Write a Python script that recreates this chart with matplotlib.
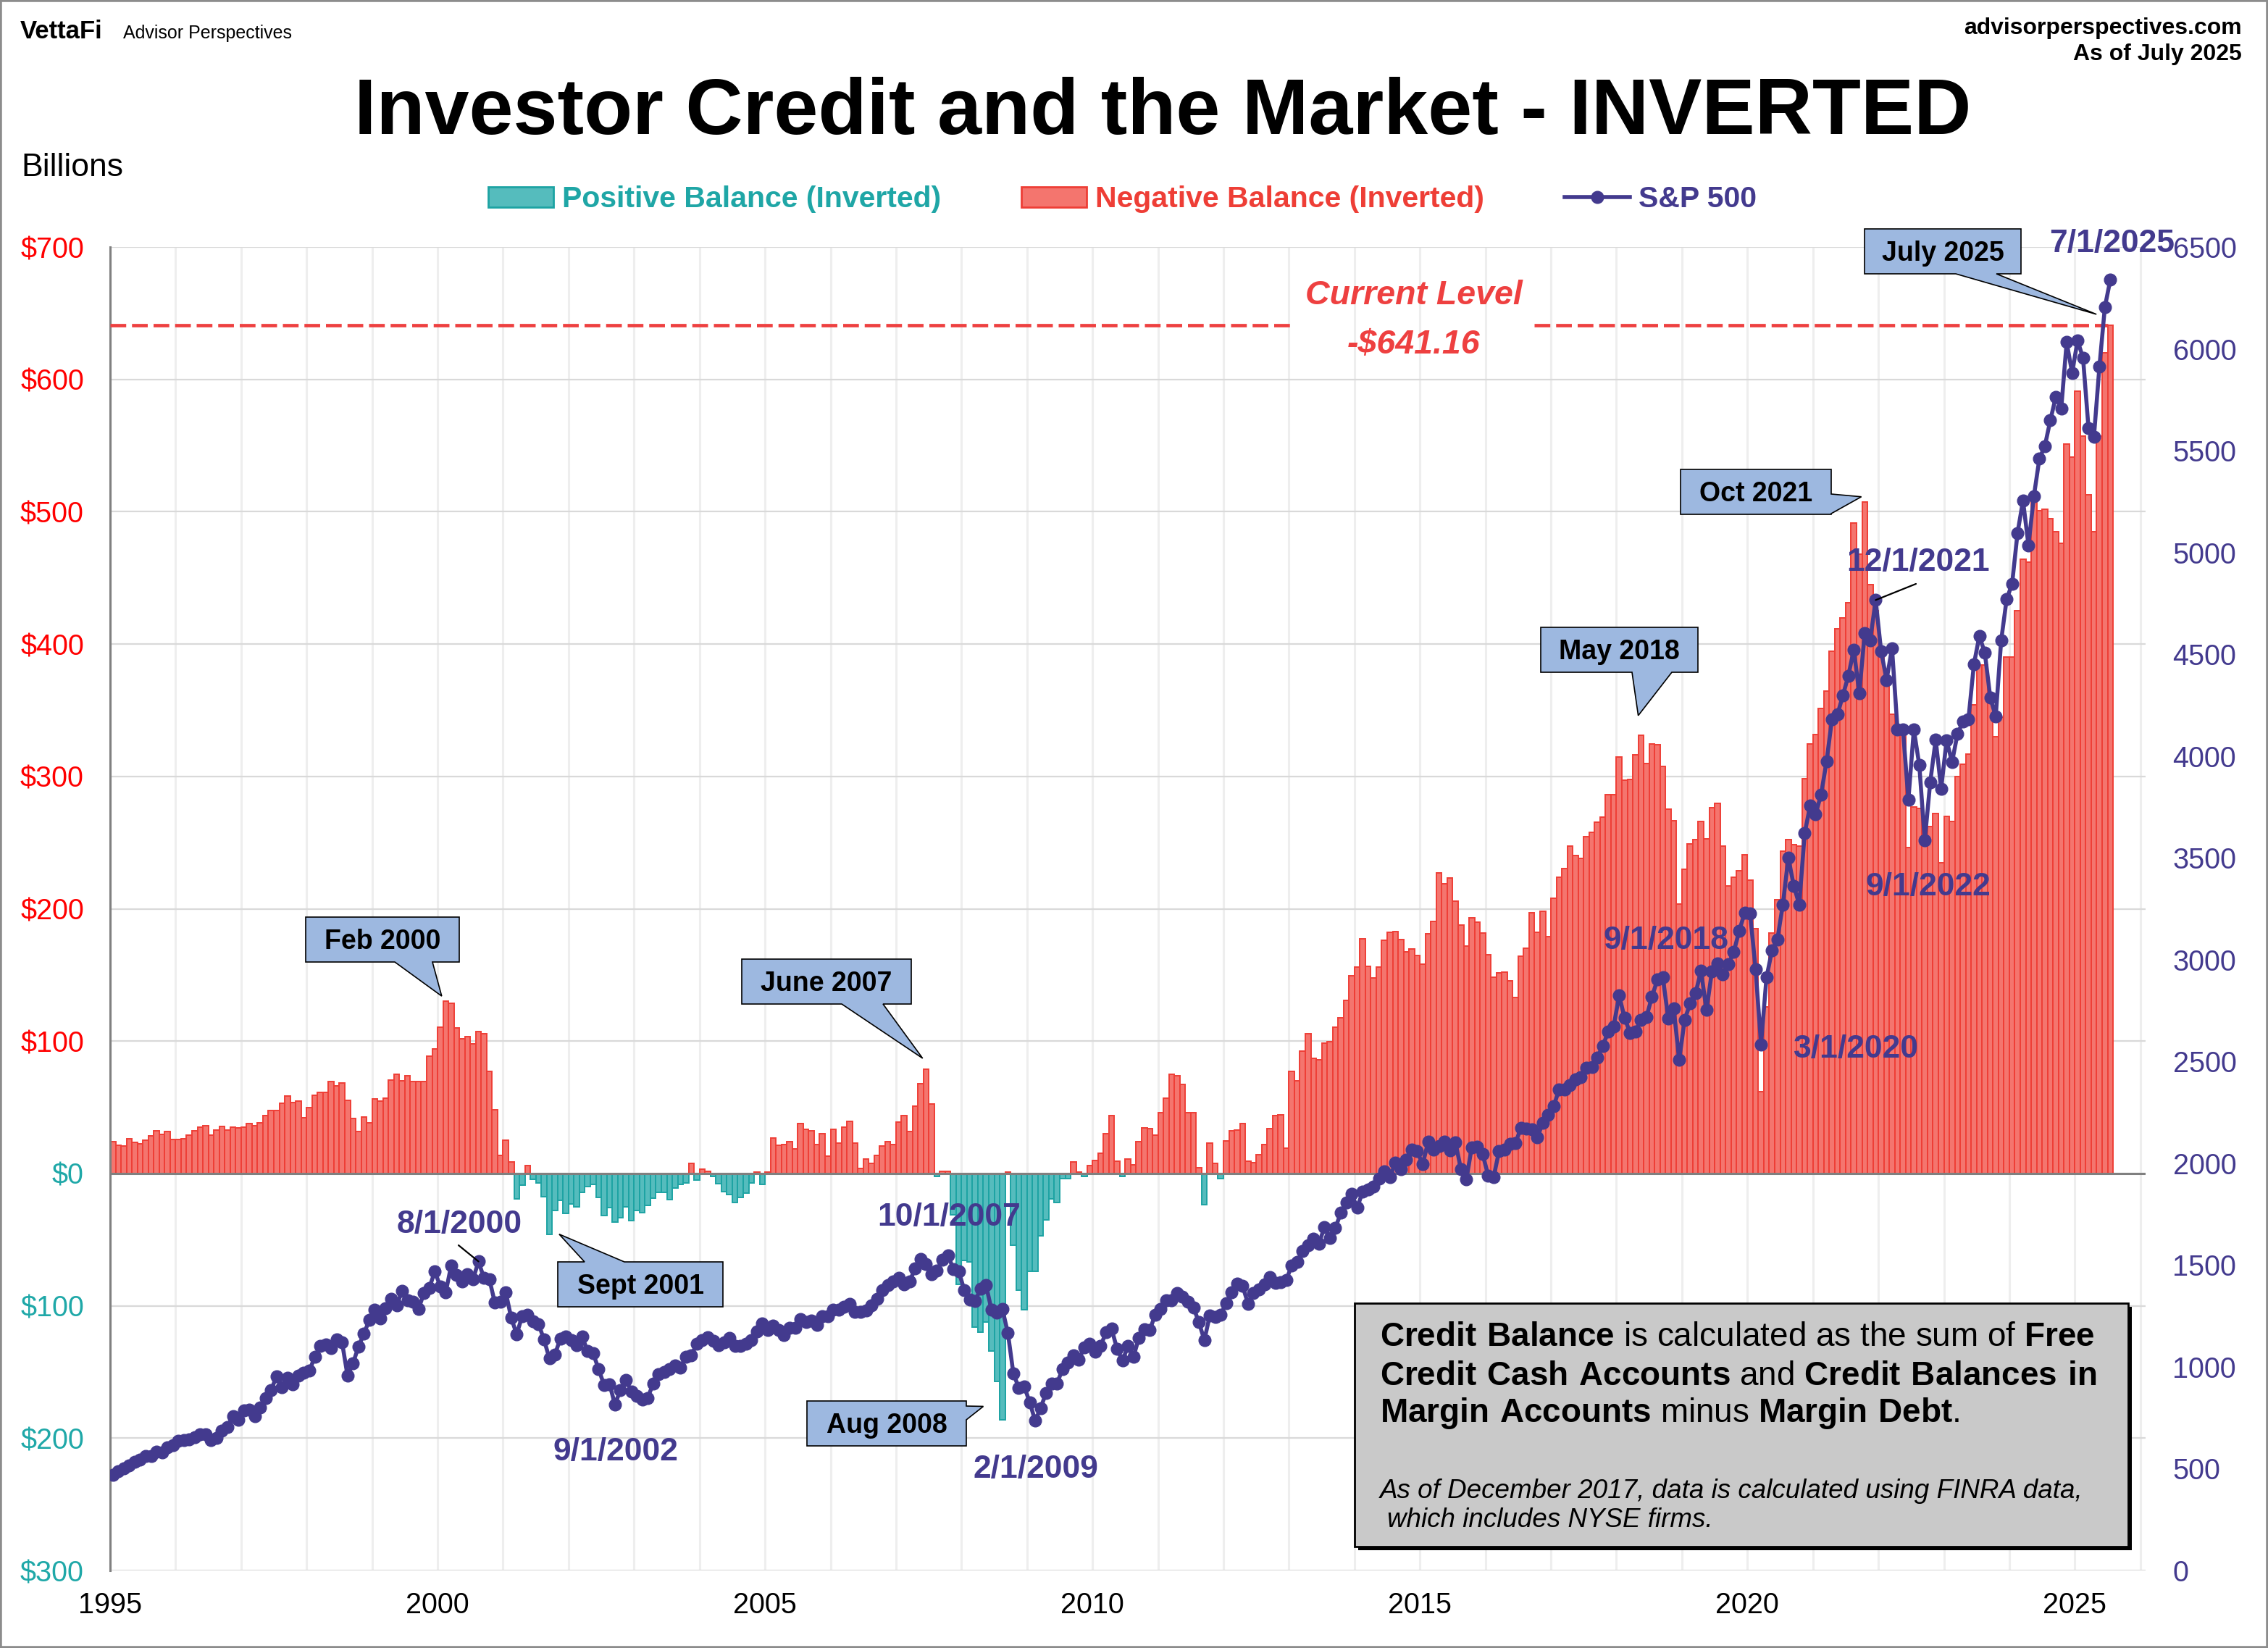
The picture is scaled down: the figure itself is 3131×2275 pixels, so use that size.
import numpy as np
import matplotlib
matplotlib.use("Agg")
import matplotlib.pyplot as plt
from matplotlib.patches import Patch, Rectangle, Polygon
from matplotlib.lines import Line2D
from matplotlib.transforms import IdentityTransform

plt.rcParams['font.family'] = ['Liberation Sans', 'DejaVu Sans']
plt.rcParams['mathtext.fontset'] = 'custom'
plt.rcParams['mathtext.rm'] = 'Liberation Sans'
plt.rcParams['mathtext.bf'] = 'Liberation Sans:bold'

START_YEAR = 1995

# inverted credit balance, $ billions, monthly from Jan 1995
credit_inverted = [
    24, 21.5, 20.7, 26, 23.3, 22.6, 25, 28.4, 32.3, 29.7, 31.6, 25.7,            # 1995
    25.7, 26, 29, 32, 35, 36.3, 29, 32.7, 35.4, 32.7, 35, 34.7,                  # 1996
    35, 37.6, 36.3, 38.2, 44, 47.7, 47.7, 52.8, 58.7, 53.8, 54.7, 42.2,          # 1997
    50, 59.3, 61.5, 61, 69.7, 66.4, 68.4, 55.4, 41.3, 31.7, 42.6, 38.2,          # 1998
    56.3, 54.7, 57, 70.6, 75.2, 70, 74, 69.4, 69.4, 69.7, 88.4, 94.1,            # 1999
    110.6, 130, 128.8, 110, 101.5, 103.3, 98, 107, 105.5, 77, 48.3, 13.8,        # 2000
    25, 8.8, -19, -8.6, 6, -4.2, -7, -17.4, -45.9, -27.9, -20.2, -29.9,          # 2001
    -22.9, -25.3, -14.3, -10.1, -8.3, -18.3, -31.7, -25.7, -36.7, -33.6, -25.3, -35.4,  # 2002
    -28, -29.4, -24.4, -18.7, -14.1, -14.1, -19.6, -11, -8.3, -7.3, 7.7, -5,     # 2003
    3.3, 1.8, -2.2, -7.7, -13.8, -16, -22, -18, -14.7, -7.3, 1, -8.3,            # 2004
    1, 26.8, 21.3, 22, 24.2, 18.7, 37.6, 33.5, 32.1, 22, 30.3, 13.2,             # 2005
    33.5, 23.2, 34.8, 39.6, 23, 3.7, 11, 7.7, 13.8, 21, 24.2, 22,                # 2006
    39, 43.9, 31.9, 51, 68, 79, 52.4, -2.4, 1.4, 1.4, -31.5, -84,                # 2007
    -66, -67, -116, -120, -112, -134, -157, -186, 1, -54, -88, -103,             # 2008
    -74, -74, -47, -35, -19, -22, -4, -4, 8.5, 1, -2, 6,                         # 2009
    10, 15, 30, 44, 9, -2.5, 11, 6.5, 24, 34.6, 34, 29,                          # 2010
    46, 56.7, 75, 74, 67, 46, 46, 4.2, -23.5, 22.7, 7.7, -3.8,                   # 2011
    24.4, 32.3, 33, 37.9, 9, 8, 14, 22, 33.7, 43.8, 44.2, 19.2,                  # 2012
    77.3, 70.2, 92.3, 105.8, 87, 86, 98.5, 99.6, 110.6, 117.7, 130.8, 149.4,     # 2013
    155.8, 177.5, 156.7, 148, 155.8, 176, 182.3, 182.7, 177, 167.3, 169.8, 164.8,  # 2014
    158, 181.3, 190.4, 227, 219, 223, 205.6, 187.5, 172, 193.4, 190, 181.5,      # 2015
    165.5, 148.4, 151.6, 152, 145.6, 132.8, 164, 170, 197.2, 182.2, 198, 178.7,  # 2016
    207.7, 224, 230.3, 247.4, 240.4, 238, 254.7, 257.8, 265.2, 269.3, 286, 286,  # 2017
    314.6, 297.2, 297.9, 316.4, 331, 310, 324.7, 324, 307.7, 275.3, 266.5, 203.8,  # 2018
    230, 249, 252, 265.9, 252.6, 276.3, 279.8, 247.4, 217, 224, 228.6, 240.8,    # 2019
    221.6, 184.7, 62, 126, 181.5, 206.8, 243.4, 252.2, 248.3, 247.3, 298.5, 324.4,  # 2020
    331.7, 351.2, 364.4, 394.6, 411.7, 419.5, 431.2, 491.2, 468, 507.3, 445, 425,  # 2021
    395, 370, 347, 335, 335, 246, 277, 276, 260, 262, 272, 235,                  # 2022
    270, 266, 300, 309, 317, 354, 384, 384, 357, 330, 345, 390,                  # 2023
    390, 425, 464, 462, 510, 501, 502, 495, 485, 476, 551, 541,                  # 2024
    591, 557, 513, 485, 557, 620, 641.16,                                        # 2025
]

# S&P 500 monthly close
sp500 = [
    470.42, 487.39, 500.71, 514.71, 533.40, 544.75, 562.06, 561.88, 584.41, 581.50, 605.37, 615.93,
    636.02, 640.43, 645.50, 654.17, 669.12, 670.63, 639.95, 651.99, 687.31, 705.27, 757.02, 740.74,
    786.16, 790.82, 757.12, 801.34, 848.28, 885.14, 954.29, 899.47, 947.28, 914.62, 955.40, 970.43,
    980.28, 1049.34, 1101.75, 1111.75, 1090.82, 1133.84, 1120.67, 957.28, 1017.01, 1098.67, 1163.63, 1229.23,
    1279.64, 1238.33, 1286.37, 1335.18, 1301.84, 1372.71, 1328.72, 1320.41, 1282.71, 1362.93, 1388.91, 1469.25,
    1394.46, 1366.42, 1498.58, 1452.43, 1420.60, 1454.60, 1430.83, 1517.68, 1436.51, 1429.40, 1314.95, 1320.28,
    1366.01, 1239.94, 1160.33, 1249.46, 1255.82, 1224.42, 1211.23, 1133.58, 1040.94, 1059.78, 1139.45, 1148.08,
    1130.20, 1106.73, 1147.39, 1076.92, 1067.14, 989.82, 911.62, 916.07, 815.28, 885.76, 936.31, 879.82,
    855.70, 841.15, 848.18, 916.92, 963.59, 974.50, 990.31, 1008.01, 995.97, 1050.71, 1058.20, 1111.92,
    1131.13, 1144.94, 1126.21, 1107.30, 1120.68, 1140.84, 1101.72, 1104.24, 1114.58, 1130.20, 1173.82, 1211.92,
    1181.27, 1203.60, 1180.59, 1156.85, 1191.50, 1191.33, 1234.18, 1220.33, 1228.81, 1207.01, 1249.48, 1248.29,
    1280.08, 1280.66, 1294.87, 1310.61, 1270.09, 1270.20, 1276.66, 1303.82, 1335.85, 1377.94, 1400.63, 1418.30,
    1438.24, 1406.82, 1420.86, 1482.37, 1530.62, 1503.35, 1455.27, 1473.99, 1526.75, 1549.38, 1481.14, 1468.36,
    1378.55, 1330.63, 1322.70, 1385.59, 1400.38, 1280.00, 1267.38, 1282.83, 1166.36, 968.75, 896.24, 903.25,
    825.88, 735.09, 797.87, 872.81, 919.14, 919.32, 987.48, 1020.62, 1057.08, 1036.19, 1095.63, 1115.10,
    1073.87, 1104.49, 1169.43, 1186.69, 1089.41, 1030.71, 1101.60, 1049.33, 1141.20, 1183.26, 1180.55, 1257.64,
    1286.12, 1327.22, 1325.83, 1363.61, 1345.20, 1320.64, 1292.28, 1218.89, 1131.42, 1253.30, 1246.96, 1257.60,
    1312.41, 1365.68, 1408.47, 1397.91, 1310.33, 1362.16, 1379.32, 1406.58, 1440.67, 1412.16, 1416.18, 1426.19,
    1498.11, 1514.68, 1569.19, 1597.57, 1630.74, 1606.28, 1685.73, 1632.97, 1681.55, 1756.54, 1805.81, 1848.36,
    1782.59, 1859.45, 1872.34, 1883.95, 1923.57, 1960.23, 1930.67, 2003.37, 1972.29, 2018.05, 2067.56, 2058.90,
    1994.99, 2104.50, 2067.89, 2085.51, 2107.39, 2063.11, 2103.84, 1972.18, 1920.03, 2079.36, 2080.41, 2043.94,
    1940.24, 1932.23, 2059.74, 2065.30, 2096.95, 2098.86, 2173.60, 2170.95, 2168.27, 2126.15, 2198.81, 2238.83,
    2278.87, 2363.64, 2362.72, 2384.20, 2411.80, 2423.41, 2470.30, 2471.65, 2519.36, 2575.26, 2647.58, 2673.61,
    2823.81, 2713.83, 2640.87, 2648.05, 2705.27, 2718.37, 2816.29, 2901.52, 2913.98, 2711.74, 2760.17, 2506.85,
    2704.10, 2784.49, 2834.40, 2945.83, 2752.06, 2941.76, 2980.38, 2926.46, 2976.74, 3037.56, 3140.98, 3230.78,
    3225.52, 2954.22, 2584.59, 2912.43, 3044.31, 3100.29, 3271.12, 3500.31, 3363.00, 3269.96, 3621.63, 3756.07,
    3714.24, 3811.15, 3972.89, 4181.17, 4204.11, 4297.50, 4395.26, 4522.68, 4307.54, 4605.38, 4567.00, 4766.18,
    4515.55, 4373.94, 4530.41, 4131.93, 4132.15, 3785.38, 4130.29, 3955.00, 3585.62, 3871.98, 4080.11, 3839.50,
    4076.60, 3970.15, 4109.31, 4169.48, 4179.83, 4450.38, 4588.96, 4507.66, 4288.05, 4193.80, 4567.80, 4769.83,
    4845.65, 5096.27, 5254.35, 5035.69, 5277.51, 5460.48, 5522.30, 5648.40, 5762.48, 5705.45, 6032.38, 5881.63,
    6040.53, 5954.50, 5611.85, 5569.06, 5911.69, 6204.95, 6339.39,
]

left_ticks = list(range(-300, 701, 100))
right_ticks = list(range(0, 6501, 500))
year_labels = list(range(1995, 2026, 5))

# callouts: label, year, month, tip offset (years, $), box in px (x0, y0, x1, y1 from top-left),
# side the pointer leaves from, and the two ends of its base along that side (px)
callouts = [
    ("Feb 2000", 2000, 2, -0.02, 4, (422, 1266, 634, 1328), 'bottom', (545, 597)),
    ("June 2007", 2007, 6, -0.01, 8, (1024, 1324, 1258, 1386), 'bottom', (1162, 1219)),
    ("Sept 2001", 2001, 9, 0.19, 0, (770, 1742, 998, 1804), 'top', (807, 862)),
    ("Aug 2008", 2008, 8, -0.25, 10, (1114, 1934, 1334, 1996), 'right', (1941, 1960)),
    ("May 2018", 2018, 5, 0.0, 15, (2127, 866, 2344, 928), 'bottom', (2253, 2308)),
    ("Oct 2021", 2021, 10, -0.01, 4, (2320, 648, 2528, 710), 'right', (682, 709)),
    ("July 2025", 2025, 7, -0.17, 8, (2574, 316, 2790, 378), 'bottom', (2700, 2756)),
]

# S&P point labels: (text, centre in px)
sp_labels = [
    ("8/1/2000", (634, 1686)),
    ("9/1/2002", (850, 2000)),
    ("10/1/2007", (1310, 1676)),
    ("2/1/2009", (1430, 2024)),
    ("9/1/2018", (2300, 1294)),
    ("3/1/2020", (2562, 1444)),
    ("12/1/2021", (2648, 772)),
    ("9/1/2022", (2662, 1220)),
    ("7/1/2025", (2916, 332)),
]

RED_FILL, RED_EDGE = '#F4756E', '#EE3E36'
TEAL_FILL, TEAL_EDGE = '#55BCBD', '#1DA3A3'
PURPLE = '#433A8E'
BOX_BLUE = '#9DB8E0'

W, H, DPI = 3131, 2275, 100
fig = plt.figure(figsize=(W / DPI, H / DPI), dpi=DPI)


def fx(x):
    return x / W


def fy(y):
    return 1 - y / H


ax = fig.add_axes([fx(152), fy(2168), fx(2962) - fx(152), fy(341) - fy(2168)])
ax2 = ax.twinx()

n = len(credit_inverted)
assert n == len(sp500)
dates = START_YEAR + np.arange(n) / 12.0
vals = np.array(credit_inverted)
spx = np.array(sp500)
neg_bal = vals >= 0

ax.bar(dates[neg_bal], vals[neg_bal], width=1 / 12, align='edge', color=RED_FILL,
       edgecolor=RED_EDGE, linewidth=1.4, zorder=2)
ax.bar(dates[~neg_bal], vals[~neg_bal], width=1 / 12, align='edge', color=TEAL_FILL,
       edgecolor=TEAL_EDGE, linewidth=1.4, zorder=2)
ax.axhline(0, color='#808080', lw=2.2, zorder=4)

# current level dashed line, broken where the label sits
cur = vals[-1]
gap_l, gap_r = 2013.09, 2016.75
dash = dict(color='#EE4040', lw=3.4, linestyle=(0, (4.6, 1.7)), zorder=3)
ax.plot([dates[0], gap_l], [cur, cur], **dash)
ax.plot([gap_r, dates[-1]], [cur, cur], **dash)

ax2.plot(dates + 1 / 24, spx, color=PURPLE, lw=4, marker='o', ms=12, zorder=3)

ax.set_xlim(1995, 2026.08)
ax.set_ylim(-300, 700)
ax2.set_ylim(0, 6500)

ax.set_xticks(year_labels)
ax.set_xticklabels([str(y) for y in year_labels])
ax.set_xticks(np.arange(1995, 2027), minor=True)
ax.grid(axis='x', which='both', color='#EEEEEE', lw=2.2)
ax.grid(axis='y', which='major', color='#D9D9D9', lw=1.6)
ax.set_axisbelow(True)

ax.set_yticks(left_ticks)
ax.set_yticklabels(['$' + str(abs(v)) for v in left_ticks])
for lab, v in zip(ax.get_yticklabels(), left_ticks):
    lab.set_color('#FF0000' if v > 0 else '#1FA8A8')
ax2.set_yticks(right_ticks)
ax2.set_yticklabels([str(v) for v in right_ticks])

ax.tick_params(axis='x', which='both', length=0, labelsize=28.5, pad=21)
ax.tick_params(axis='y', length=0, labelsize=28.5, pad=26)
ax2.tick_params(axis='y', length=0, labelsize=28.5, pad=27, labelcolor=PURPLE)

for s in ['top', 'right', 'bottom']:
    ax.spines[s].set_visible(False)
ax.spines['left'].set_color('#808080')
ax.spines['left'].set_linewidth(2.2)
for s in ax2.spines.values():
    s.set_visible(False)

# callouts drawn as one outline: box plus pointer
for label, yr, mo, dx, dy, (x0, y0, x1, y1), side, (b0, b1) in callouts:
    i = (yr - START_YEAR) * 12 + mo - 1
    tip = tuple(ax.transData.transform((dates[i] + dx, vals[i] + dy)))
    X0, X1, YT, YB = x0, x1, H - y0, H - y1
    if side == 'bottom':
        verts = [(X0, YT), (X1, YT), (X1, YB), (b1, YB), tip, (b0, YB), (X0, YB)]
    elif side == 'top':
        verts = [(X0, YB), (X1, YB), (X1, YT), (b1, YT), tip, (b0, YT), (X0, YT)]
    else:
        verts = [(X0, YT), (X1, YT), (X1, H - b0), tip, (X1, H - b1), (X1, YB), (X0, YB)]
    fig.add_artist(Polygon(verts, closed=True, transform=IdentityTransform(),
                           fc=BOX_BLUE, ec='black', lw=1.2, zorder=6))
    fig.text(fx((x0 + x1) / 2), fy((y0 + y1) / 2 + 13), label, ha='center', va='baseline',
             fontsize=27, fontweight='bold', zorder=7)

# S&P labels
for label, (cx, cy) in sp_labels:
    fig.text(fx(cx), fy(cy + 16), label, ha='center', va='baseline', fontsize=32,
             fontweight='bold', color=PURPLE, zorder=7)

# leader lines to the labelled S&P points
for yr, mo, (tx, ty) in [(2000, 8, (633, 1719)), (2021, 12, (2645, 806))]:
    i = (yr - START_YEAR) * 12 + mo - 1
    ax2.annotate('', xy=(dates[i] + 1 / 24, spx[i]), xytext=(fx(tx), fy(ty)),
                 textcoords='figure fraction',
                 arrowprops=dict(arrowstyle='-', color='black', lw=1.6, shrinkA=0, shrinkB=0),
                 annotation_clip=False)

# current level label
fig.text(fx(1952), fy(408), 'Current Level', ha='center', va='center', fontsize=33.5,
         fontweight='bold', style='italic', color='#EE4040')
fig.text(fx(1952), fy(476), '-$' + f'{cur:.2f}', ha='center', va='center', fontsize=33.5,
         fontweight='bold', style='italic', color='#EE4040')

# header
fig.text(fx(28), fy(53), 'VettaFi', fontsize=25, fontweight='bold', va='baseline')
fig.text(fx(170), fy(53), 'Advisor Perspectives', fontsize=18, va='baseline')
fig.text(fx(3095), fy(47), 'advisorperspectives.com', ha='right', va='baseline',
         fontsize=23, fontweight='bold')
fig.text(fx(3095), fy(83), 'As of July 2025', ha='right', va='baseline',
         fontsize=23, fontweight='bold')
fig.text(fx(1605), fy(185), 'Investor Credit and the Market - INVERTED', ha='center',
         va='baseline', fontsize=79, fontweight='bold')
fig.text(fx(29), fy(243), 'Billions', fontsize=32, va='baseline')

# legend
handles = [Patch(facecolor=TEAL_FILL, edgecolor=TEAL_EDGE, linewidth=2),
           Patch(facecolor=RED_FILL, edgecolor=RED_EDGE, linewidth=2),
           Line2D([], [], color=PURPLE, lw=4, marker='o', ms=12)]
labels = ['Positive Balance (Inverted)', 'Negative Balance (Inverted)', 'S&P 500']
leg = fig.legend(handles, labels, loc='center', bbox_to_anchor=(0.4949, 0.879), ncol=3,
                 frameon=False, prop=dict(weight='bold', size=29.5), handlelength=2.2,
                 handletextpad=0.3, columnspacing=2.7)
for t, c in zip(leg.get_texts(), ['#1FA6A6', RED_EDGE, PURPLE]):
    t.set_color(c)

# explanation box
bx0, by0, bx1, by1 = 1870, 1799, 2938, 2135
fig.add_artist(Rectangle((fx(bx0 + 5), fy(by1 + 5)), fx(bx1) - fx(bx0), fy(by0) - fy(by1),
                         transform=fig.transFigure, fc='black', ec='none', zorder=5))
fig.add_artist(Rectangle((fx(bx0), fy(by1)), fx(bx1) - fx(bx0), fy(by0) - fy(by1),
                         transform=fig.transFigure, fc='#C9C9C9', ec='black', lw=2, zorder=6))
box_lines = [
    r"$\bf{Credit\ Balance}$ is calculated as the sum of $\bf{Free}$",
    r"$\bf{Credit\ Cash\ Accounts}$ and $\bf{Credit\ Balances\ in}$",
    r"$\bf{Margin\ Accounts}$ minus $\bf{Margin\ Debt}$.",
]
for line, base in zip(box_lines, [1858, 1912, 1963]):
    fig.text(fx(1905), fy(base), line, fontsize=33, va='baseline', zorder=7)
fig.text(fx(1905), fy(2068), 'As of December 2017, data is calculated using FINRA data,',
         fontsize=26.5, style='italic', va='baseline', zorder=7)
fig.text(fx(1915), fy(2108), 'which includes NYSE firms.', fontsize=26.5, style='italic',
         va='baseline', zorder=7)

fig.add_artist(Rectangle((0, 0), 1, 1, transform=fig.transFigure, fill=False,
                         ec='#8C8C8C', lw=4, zorder=10))

fig.savefig('out.png', dpi=DPI)
